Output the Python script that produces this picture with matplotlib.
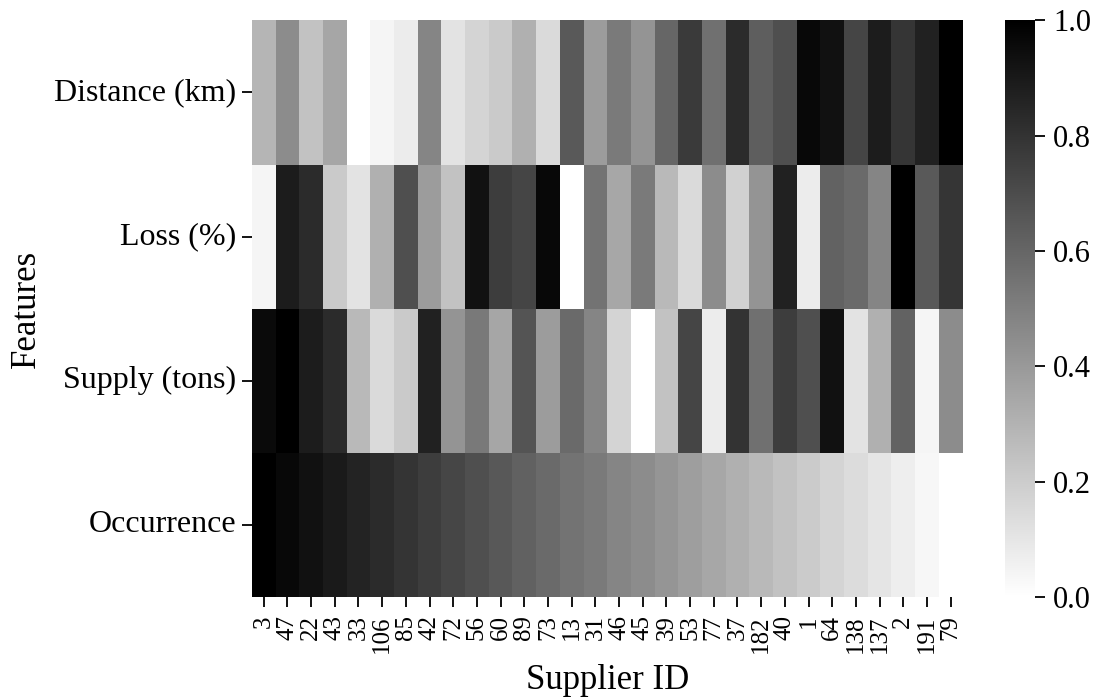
"""Supplier feature heatmap"""

import numpy as np
import matplotlib
matplotlib.use('Agg')
import matplotlib.pyplot as plt
import seaborn as sns

suppliers = ['3', '47', '22', '43', '33', '106', '85', '42', '72', '56',
             '60', '89', '73', '13', '31', '46', '45', '39', '53', '77',
             '37', '182', '40', '1', '64', '138', '137', '2', '191', '79']
features = ['Distance (km)', 'Loss (%)', 'Supply (tons)', 'Occurrence']

distance = [0.29, 0.45, 0.24, 0.35, 0.0, 0.04, 0.075, 0.48, 0.11, 0.17,
            0.21, 0.31, 0.145, 0.65, 0.39, 0.52, 0.42, 0.6, 0.77, 0.56,
            0.83, 0.63, 0.69, 0.965, 0.93, 0.73, 0.89, 0.79, 0.87, 1.0]
loss = [0.04, 0.89, 0.83, 0.21, 0.11, 0.31, 0.69, 0.39, 0.24, 0.93,
        0.76, 0.73, 0.965, 0.0, 0.55, 0.345, 0.52, 0.275, 0.145, 0.45,
        0.18, 0.42, 0.87, 0.075, 0.615, 0.585, 0.48, 1.0, 0.65, 0.79]
supply = [0.96, 1.0, 0.89, 0.83, 0.275, 0.145, 0.21, 0.87, 0.42, 0.525,
          0.35, 0.67, 0.39, 0.585, 0.48, 0.17, 0.0, 0.24, 0.73, 0.075,
          0.8, 0.56, 0.76, 0.69, 0.93, 0.11, 0.31, 0.615, 0.04, 0.45]
occurrence = [1.0, 0.965, 0.93, 0.895, 0.86, 0.83, 0.795, 0.76, 0.725, 0.69,
              0.655, 0.62, 0.585, 0.55, 0.52, 0.48, 0.45, 0.415, 0.38, 0.345,
              0.31, 0.275, 0.24, 0.205, 0.17, 0.14, 0.105, 0.07, 0.035, 0.0]

plt.rcParams['font.family'] = ['Liberation Serif', 'DejaVu Serif']

data = np.array([distance, loss, supply, occurrence])

fig = plt.figure(figsize=(11, 7), dpi=100)
ax = fig.add_axes([0.229, 0.147, 0.646, 0.824])
cax = fig.add_axes([0.9136, 0.147, 0.0273, 0.824])

sns.heatmap(data, ax=ax, cbar_ax=cax, cmap='gray_r', vmin=0, vmax=1,
            xticklabels=suppliers, yticklabels=features)

ax.tick_params(axis='x', labelrotation=90, labelsize=18, length=7, width=1.3, pad=6)
ax.tick_params(axis='y', labelrotation=0, labelsize=23, length=7, width=1.3, pad=4)
ax.set_xlabel('Supplier ID', fontsize=25, labelpad=8)
ax.set_ylabel('Features', fontsize=25, labelpad=8)
cax.tick_params(labelsize=22, length=7, width=1.3, pad=6)

plt.savefig('out.png', dpi=100)
